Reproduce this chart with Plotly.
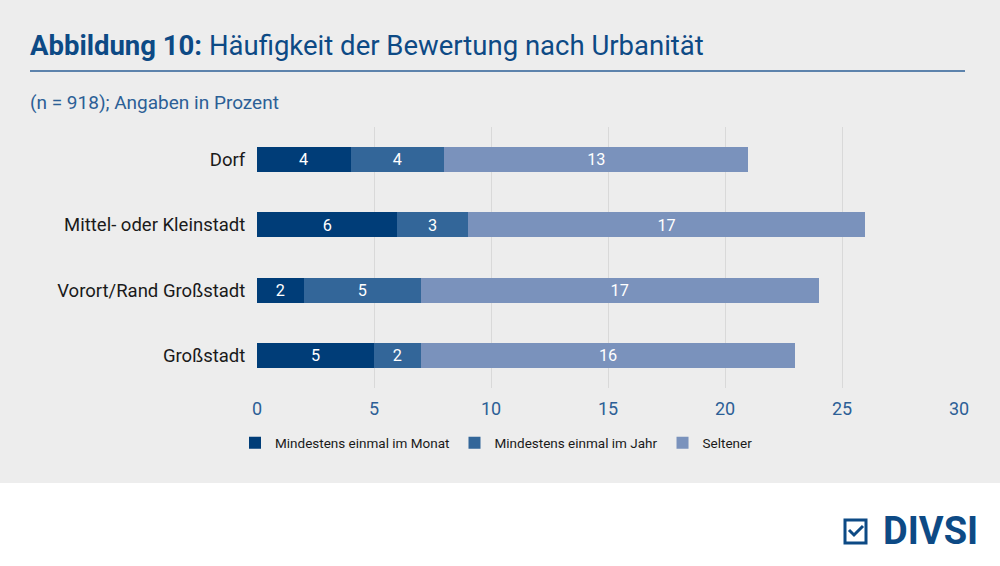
import plotly.graph_objects as go

categories = ["Dorf", "Mittel- oder Kleinstadt", "Vorort/Rand Großstadt", "Großstadt"]
monat = [4, 6, 2, 5]
jahr = [4, 3, 5, 2]
seltener = [13, 17, 17, 16]
series_names = ["Mindestens einmal im Monat", "Mindestens einmal im Jahr", "Seltener"]
tick_vals = [0, 5, 10, 15, 20, 25, 30]

colors = ["#003d78", "#336699", "#7a92bc"]
W, H = 1000, 566
L, R, T, B = 257, 959, 127, 388  # plot area in pixels


def px(x):
    return (x - L) / (R - L)


def py(y):
    return (B - y) / (B - T)


fig = go.Figure()
for name, vals, col in zip(series_names, [monat, jahr, seltener], colors):
    fig.add_trace(go.Bar(
        y=categories, x=vals, name=name, orientation="h",
        marker=dict(color=col, line=dict(width=0)),
        text=vals, textposition="inside", insidetextanchor="middle", textangle=0,
        textfont=dict(color="white", size=17, family="Roboto"),
        hoverinfo="x+name",
    ))

shapes = [
    # grey panel behind chart
    dict(type="rect", xref="paper", yref="paper", x0=px(0), x1=px(W), y0=py(483), y1=py(0),
         fillcolor="#ededed", line=dict(width=0), layer="below"),
    # rule under the title
    dict(type="line", xref="paper", yref="paper", x0=px(30), x1=px(965), y0=py(71), y1=py(71),
         line=dict(color="#2c5f96", width=1.5)),
    # logo icon
    dict(type="path", xref="paper", yref="paper",
         path="M {} {} L {} {} L {} {} L {} {} Z".format(px(845), py(520), px(866), py(520),
                                                      px(866), py(543), px(845), py(543)),
         line=dict(color="#0d4a85", width=3), fillcolor="rgba(0,0,0,0)"),
    dict(type="path", xref="paper", yref="paper",
         path="M {} {} L {} {} L {} {}".format(px(849), py(530), px(854), py(535), px(863), py(526)),
         line=dict(color="#0d4a85", width=3)),
]

annotations = [
    dict(xref="paper", yref="paper", x=px(28), y=py(45), xanchor="left", yanchor="middle",
         text="<b>Abbildung 10:</b> Häufigkeit der Bewertung nach Urbanität", showarrow=False,
         font=dict(family="Roboto", size=27.5, color="#0d4a85")),
    dict(xref="paper", yref="paper", x=px(28), y=py(103), xanchor="left", yanchor="middle",
         text="(n = 918); Angaben in Prozent", showarrow=False,
         font=dict(family="Roboto", size=19, color="#2c5f96")),
    dict(xref="paper", yref="paper", x=px(980), y=py(531), xanchor="right", yanchor="middle",
         text="<b>DIVSI</b>", showarrow=False,
         font=dict(family="Roboto", size=38, color="#0d4a85")),
]

fig.update_layout(
    width=W, height=H,
    margin=dict(l=L, r=W - R, t=T, b=H - B, pad=0),
    paper_bgcolor="white", plot_bgcolor="rgba(0,0,0,0)",
    barmode="stack", bargap=0.615,
    showlegend=True,
    legend=dict(orientation="h", x=px(235), y=py(443), xanchor="left", yanchor="middle",
                font=dict(family="Roboto", size=13.5, color="#1a1a1a"),
                bgcolor="rgba(0,0,0,0)", traceorder="normal"),
    xaxis=dict(range=[0, 30], tickvals=tick_vals, showgrid=True, gridcolor="#d9d9d9",
               gridwidth=1, zeroline=False, showline=False,
               ticks="outside", ticklen=4, tickcolor="rgba(0,0,0,0)",
               tickfont=dict(family="Roboto", size=18, color="#2c5f96"), fixedrange=True),
    yaxis=dict(autorange="reversed", showgrid=False, showline=False, zeroline=False,
               ticks="outside", ticklen=7, tickcolor="rgba(0,0,0,0)",
               tickfont=dict(family="Roboto", size=18.5, color="#1a1a1a"), fixedrange=True),
    shapes=shapes, annotations=annotations,
    font=dict(family="Roboto"),
)

fig.write_html("out.html", config={"displayModeBar": False},
               post_script="document.body.style.margin='0';")
